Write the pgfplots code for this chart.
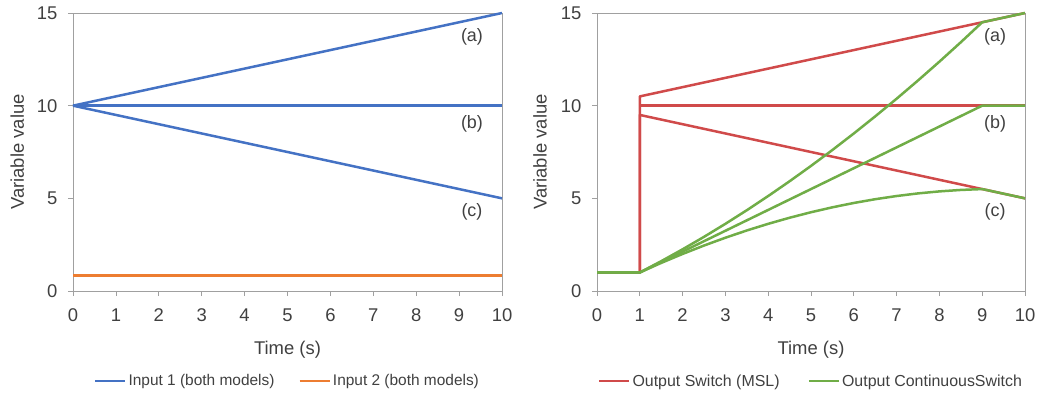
\documentclass[border=0pt]{standalone}
\usepackage{pgfplots}
\pgfplotsset{compat=1.18}
\usepackage{fontspec}
\setmainfont{Liberation Sans}
\definecolor{cblue}{HTML}{4472C4}
\definecolor{corange}{HTML}{ED7D31}
\definecolor{cred}{RGB}{208,74,74}
\definecolor{cgreen}{HTML}{70AD47}
\definecolor{ctext}{HTML}{404040}
\definecolor{caxis}{HTML}{A0A0A0}
\tikzset{lbl/.style={font=\fontsize{18}{20}\selectfont, text=ctext}}
\pgfplotsset{
  myaxis/.style={
    scale only axis,
    width=429bp, height=278bp,
    xmin=0, xmax=10, ymin=0, ymax=15,
    xtick={0,1,...,10}, ytick={0,5,10,15},
    axis line style={caxis, line width=0.8bp},
    tick style={caxis, line width=0.8bp},
    tick align=outside,
    major tick length=5bp,
    xtick pos=bottom, ytick pos=left,
    /pgf/number format/assume math mode=true,
    ticklabel style={font=\fontsize{18.5}{20}\selectfont, text=ctext},
    xticklabel style={yshift=-9bp},
    yticklabel style={xshift=-7bp},
    label style={font=\fontsize{18.5}{21}\selectfont, text=ctext},
    xlabel={Time (s)}, ylabel={Variable value},
    xlabel style={at={(axis description cs:0.5,-0.21)}, anchor=center},
    legend style={draw=none, fill=none, font=\fontsize{15.5}{17}\selectfont, text=ctext,
      at={(0.5,-0.324)}, anchor=center, legend columns=2,
      /tikz/every even column/.append style={column sep=22bp}},
    legend cell align=left,
    legend image code/.code={\draw[#1, line width=2.5bp] (0bp,0bp) -- (30bp,0bp);},
    every axis plot/.append style={line width=2.5bp, line join=round},
    clip=false,
  },
}
\begin{document}
\begin{tikzpicture}
\useasboundingbox (0,0) rectangle (1043bp,-394bp);
\begin{axis}[myaxis, at={(73bp,-291bp)}, anchor=south west,
  ylabel style={at={(axis description cs:-0.13,0.5)}, anchor=center}]
\addplot[cblue] coordinates {(0,10) (10,15)};
\addlegendentry{Input 1 (both models)}
\addplot[corange] coordinates {(0,0.85) (10,0.85)};
\addlegendentry{Input 2 (both models)}
\addplot[cblue, forget plot] coordinates {(0,10) (10,10)};
\addplot[cblue, forget plot] coordinates {(0,10) (10,5)};
\node[lbl] at (axis cs:9.3,13.7) {(a)};
\node[lbl] at (axis cs:9.3,9.0) {(b)};
\node[lbl] at (axis cs:9.3,4.25) {(c)};
\end{axis}
\begin{axis}[myaxis, width=428bp, at={(597bp,-291bp)}, anchor=south west,
  ylabel style={at={(axis description cs:-0.133,0.5)}, anchor=center},
  legend style={/tikz/every even column/.append style={column sep=26bp}, font=\fontsize{16}{17}\selectfont}]
\addplot[cred] coordinates {(0,1) (1,1) (1,10.5) (10,15)};
\addlegendentry{Output Switch (MSL)}
\addplot[cred, forget plot] coordinates {(0,1) (1,1) (1,10) (10,10)};
\addplot[cred, forget plot] coordinates {(0,1) (1,1) (1,9.5) (10,5)};
\addplot[cgreen] coordinates {(0,1) (1,1) (1.5,1.609) (2,2.25) (2.5,2.922) (3,3.625) (3.5,4.359) (4,5.125) (4.5,5.922) (5,6.75) (5.5,7.609) (6,8.5) (6.5,9.422) (7,10.375) (7.5,11.359) (8,12.375) (8.5,13.422) (9,14.5) (10,15)};
\addlegendentry{Output ContinuousSwitch}
\addplot[cgreen, forget plot] coordinates {(0,1) (1,1) (9,10) (10,10)};
\addplot[cgreen, forget plot] coordinates {(0,1) (1,1) (1.5,1.516) (2,2.0) (2.5,2.453) (3,2.875) (3.5,3.266) (4,3.625) (4.5,3.953) (5,4.25) (5.5,4.516) (6,4.75) (6.5,4.953) (7,5.125) (7.5,5.266) (8,5.375) (8.5,5.453) (9,5.5) (10,5)};
\node[lbl] at (axis cs:9.3,13.7) {(a)};
\node[lbl] at (axis cs:9.3,9.0) {(b)};
\node[lbl] at (axis cs:9.3,4.25) {(c)};
\end{axis}
\end{tikzpicture}
\end{document}
